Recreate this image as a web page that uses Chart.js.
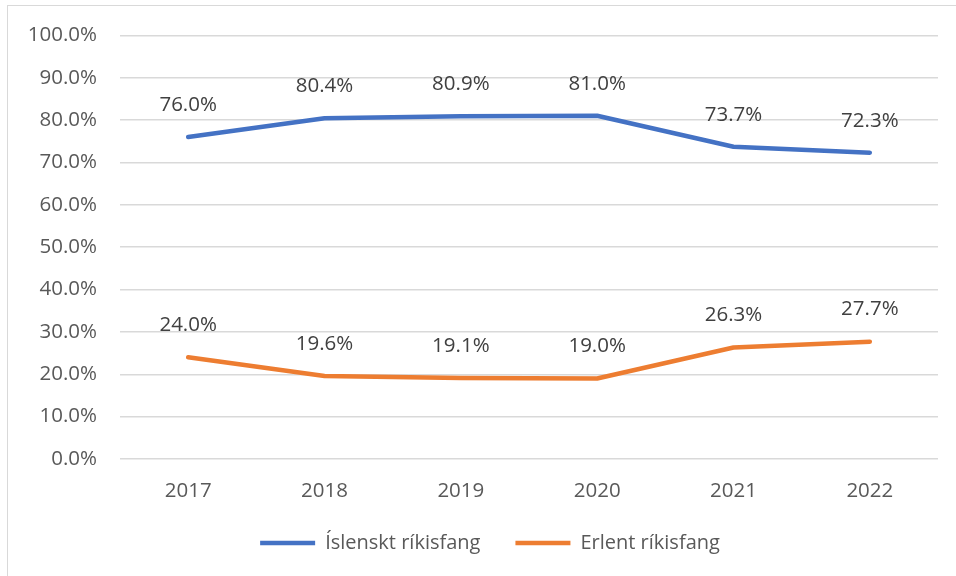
<!DOCTYPE html>
<html>
<head>
<meta charset="utf-8">
<script src="https://cdn.jsdelivr.net/npm/chart.js@4.4.1/dist/chart.umd.min.js"></script>
<style>
  html, body { margin: 0; padding: 0; background: #fff; overflow: hidden; }
  body { width: 956px; height: 576px; position: relative; }
  .frame {
    position: absolute; left: 7px; top: 5px;
    width: 1000px; height: 1000px;
    border: 1.5px solid #d9d9d9;
  }
  #chart { position: absolute; left: 0; top: 0; }
</style>
</head>
<body>
<div class="frame"></div>
<canvas id="chart" width="956" height="576"></canvas>
<script>
"use strict";

// data
const years = ["2017", "2018", "2019", "2020", "2021", "2022"];
const icelandic = [76.0, 80.4, 80.9, 81.0, 73.7, 72.3];
const foreign = [24.0, 19.6, 19.1, 19.0, 26.3, 27.7];
const seriesNames = ["Íslenskt ríkisfang", "Erlent ríkisfang"];

const FONT = "'Open Sans', sans-serif";
const SIZE = 20.5;

// draws the value above each point
const valueLabels = {
  id: "valueLabels",
  afterDatasetsDraw(chart) {
    const ctx = chart.ctx;
    ctx.save();
    ctx.font = `${SIZE}px ${FONT}`;
    ctx.fillStyle = "#404040";
    ctx.textAlign = "center";
    ctx.textBaseline = "middle";
    chart.data.datasets.forEach((ds, i) => {
      chart.getDatasetMeta(i).data.forEach((pt, j) => {
        ctx.fillText(ds.data[j].toFixed(1) + "%", pt.x, pt.y - 32);
      });
    });
    ctx.restore();
  },
};

// legend in the original is centred on the outer frame, a bit right of the plot
const legendNudge = {
  id: "legendNudge",
  afterLayout(chart) {
    if (!chart.legend) return;
    chart.legend.left += 9;
    chart.legend.right += 9;
  },
};

const lineStyle = {
  borderWidth: 4.5,
  pointRadius: 0,
  pointHoverRadius: 0,
  tension: 0,
  borderCapStyle: "round",
  borderJoinStyle: "round",
};

new Chart(document.getElementById("chart"), {
  type: "line",
  data: {
    labels: years,
    datasets: [
      { label: seriesNames[0], data: icelandic, borderColor: "#4472C4", backgroundColor: "#4472C4", ...lineStyle },
      { label: seriesNames[1], data: foreign, borderColor: "#ED7D31", backgroundColor: "#ED7D31", ...lineStyle },
    ],
  },
  options: {
    responsive: false,
    animation: false,
    layout: { padding: { left: 24, right: 18, top: 34, bottom: 13 } },
    scales: {
      x: {
        offset: true,
        grid: { display: false },
        border: { display: false },
        ticks: { color: "#595959", font: { family: FONT, size: SIZE }, padding: 12 },
        afterFit(scale) { scale.height = 39; },
      },
      y: {
        min: 0,
        max: 100,
        grid: { color: "#d9d9d9", lineWidth: 1.5, drawTicks: false },
        border: { display: false },
        ticks: {
          stepSize: 10,
          padding: 23,
          color: "#595959",
          font: { family: FONT, size: SIZE },
          callback: (v) => v.toFixed(1) + "%",
        },
        afterFit(scale) { scale.width = 96; },
      },
    },
    plugins: {
      tooltip: { enabled: false },
      legend: {
        position: "bottom",
        labels: {
          usePointStyle: true,
          pointStyle: "line",
          pointStyleWidth: 55,
          padding: 35,
          color: "#595959",
          font: { family: FONT, size: 20 },
        },
      },
    },
  },
  plugins: [valueLabels, legendNudge],
});
</script>
</body>
</html>
